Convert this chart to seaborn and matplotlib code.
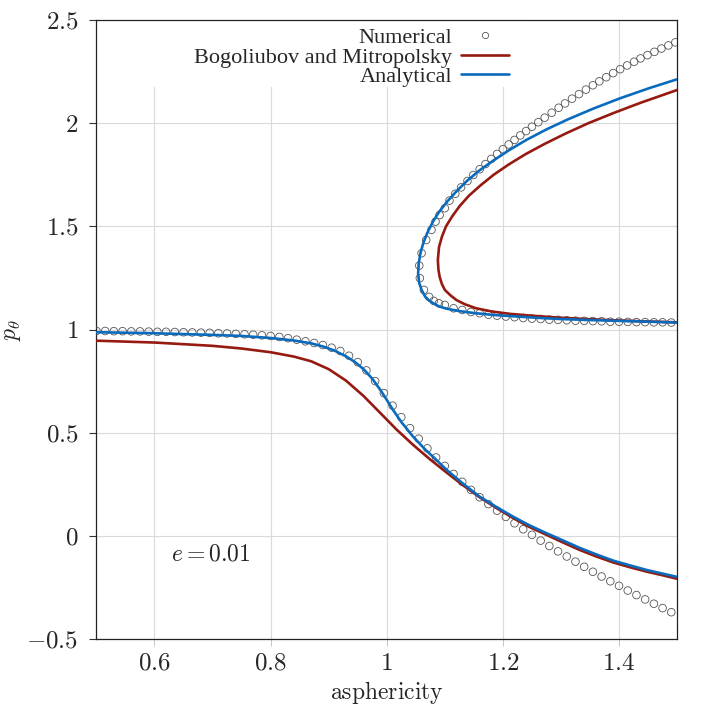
import matplotlib
matplotlib.use("Agg")
import matplotlib.pyplot as plt
import seaborn as sns
import pandas as pd
from matplotlib.lines import Line2D
from matplotlib.patches import Rectangle

# numerical solution, lower branch
num_low_x = [0.500, 0.515, 0.530, 0.545, 0.560, 0.575, 0.590, 0.605, 0.620, 0.635,
             0.650, 0.665, 0.680, 0.695, 0.710, 0.725, 0.740, 0.755, 0.770, 0.785,
             0.800, 0.815, 0.830, 0.845, 0.860, 0.875, 0.890, 0.905, 0.920, 0.935,
             0.950, 0.965, 0.980, 0.995, 1.010, 1.025, 1.040, 1.055, 1.070, 1.085,
             1.100, 1.115, 1.130, 1.145, 1.160, 1.175, 1.190, 1.205, 1.220, 1.235,
             1.250, 1.265, 1.280, 1.295, 1.310, 1.325, 1.340, 1.355, 1.370, 1.385,
             1.400, 1.415, 1.430, 1.445, 1.460, 1.475, 1.490]
num_low_y = [0.993, 0.993, 0.992, 0.992, 0.991, 0.991, 0.990, 0.989, 0.989, 0.988,
             0.987, 0.986, 0.985, 0.984, 0.982, 0.981, 0.979, 0.977, 0.975, 0.972,
             0.969, 0.964, 0.958, 0.951, 0.943, 0.935, 0.925, 0.912, 0.896, 0.873,
             0.842, 0.802, 0.750, 0.692, 0.631, 0.575, 0.522, 0.471, 0.424, 0.380,
             0.339, 0.300, 0.262, 0.223, 0.187, 0.154, 0.122, 0.092, 0.061, 0.032,
             0.005, -0.023, -0.049, -0.075, -0.100, -0.125, -0.150, -0.174, -0.197, -0.220,
             -0.242, -0.265, -0.287, -0.308, -0.329, -0.350, -0.370]

# numerical solution, upper branch (lower arm then upper arm)
num_up_x = [1.064, 1.073, 1.081, 1.090, 1.100, 1.115, 1.130, 1.145, 1.160, 1.175,
            1.190, 1.205, 1.220, 1.235, 1.250, 1.265, 1.280, 1.295, 1.310, 1.325,
            1.340, 1.355, 1.370, 1.385, 1.400, 1.415, 1.430, 1.445, 1.460, 1.475, 1.490,
            1.057, 1.056, 1.060, 1.068, 1.077, 1.084, 1.091, 1.100, 1.108, 1.118,
            1.128, 1.139, 1.149, 1.160, 1.170, 1.180, 1.190, 1.200, 1.210, 1.220,
            1.230, 1.240, 1.250, 1.261, 1.272, 1.284, 1.296, 1.307, 1.319, 1.331,
            1.343, 1.355, 1.366, 1.378, 1.390, 1.402, 1.414, 1.426, 1.437, 1.449,
            1.461, 1.473, 1.485, 1.497]
num_up_y = [1.192, 1.158, 1.139, 1.127, 1.119, 1.103, 1.095, 1.085, 1.079, 1.072,
            1.067, 1.063, 1.060, 1.056, 1.053, 1.051, 1.048, 1.047, 1.045, 1.043,
            1.042, 1.041, 1.040, 1.038, 1.038, 1.037, 1.036, 1.036, 1.035, 1.035, 1.034,
            1.249, 1.310, 1.370, 1.434, 1.483, 1.523, 1.555, 1.588, 1.625, 1.658,
            1.689, 1.720, 1.749, 1.777, 1.802, 1.827, 1.851, 1.874, 1.897, 1.919,
            1.941, 1.962, 1.983, 2.005, 2.027, 2.051, 2.075, 2.096, 2.119, 2.141,
            2.163, 2.184, 2.203, 2.223, 2.243, 2.262, 2.280, 2.298, 2.314, 2.330,
            2.346, 2.362, 2.377, 2.392]

# analytical, lower branch
ana_low_x = [0.500, 0.600, 0.700, 0.750, 0.800, 0.840, 0.870, 0.890, 0.910, 0.930,
             0.945, 0.960, 0.975, 0.990, 1.000, 1.010, 1.025, 1.045, 1.065, 1.085,
             1.103, 1.130, 1.160, 1.190, 1.217, 1.245, 1.275, 1.305, 1.332, 1.360,
             1.390, 1.420, 1.447, 1.475, 1.500]
ana_low_y = [0.987, 0.982, 0.974, 0.969, 0.959, 0.947, 0.933, 0.918, 0.898, 0.870,
             0.843, 0.808, 0.762, 0.703, 0.659, 0.614, 0.552, 0.482, 0.422, 0.369,
             0.320, 0.256, 0.190, 0.138, 0.094, 0.052, 0.013, -0.024, -0.058, -0.089,
             -0.120, -0.144, -0.165, -0.183, -0.199]

# analytical, upper branch (from bottom right round the nose to top right)
ana_up_x = [1.500, 1.450, 1.400, 1.350, 1.300, 1.270, 1.230, 1.183, 1.150, 1.126,
            1.105, 1.091, 1.082, 1.073, 1.066, 1.060, 1.056, 1.054, 1.055, 1.058,
            1.063, 1.070, 1.079, 1.090, 1.104, 1.120, 1.138, 1.159, 1.184, 1.211,
            1.241, 1.275, 1.313, 1.355, 1.401, 1.452, 1.500]
ana_up_y = [1.034, 1.038, 1.042, 1.046, 1.051, 1.055, 1.062, 1.071, 1.080, 1.089,
            1.100, 1.111, 1.124, 1.140, 1.160, 1.192, 1.225, 1.270, 1.320, 1.370,
            1.420, 1.470, 1.520, 1.570, 1.620, 1.670, 1.720, 1.770, 1.820, 1.870,
            1.920, 1.970, 2.020, 2.070, 2.120, 2.170, 2.213]

# Bogoliubov and Mitropolsky, lower branch
bm_low_x = [0.500, 0.600, 0.700, 0.750, 0.800, 0.840, 0.870, 0.900, 0.930, 0.960,
            0.988, 1.017, 1.045, 1.074, 1.103, 1.130, 1.160, 1.190, 1.217, 1.245,
            1.275, 1.305, 1.332, 1.360, 1.390, 1.420, 1.447, 1.475, 1.500]
bm_low_y = [0.946, 0.937, 0.921, 0.908, 0.890, 0.869, 0.846, 0.808, 0.752, 0.678,
            0.598, 0.515, 0.442, 0.372, 0.307, 0.248, 0.187, 0.133, 0.087, 0.044,
            0.005, -0.034, -0.068, -0.099, -0.129, -0.153, -0.173, -0.191, -0.208]

# Bogoliubov and Mitropolsky, upper branch
bm_up_x = [1.500, 1.450, 1.400, 1.350, 1.300, 1.275, 1.250, 1.212, 1.180, 1.154,
           1.135, 1.120, 1.110, 1.100, 1.095, 1.091, 1.089, 1.088, 1.090, 1.095,
           1.102, 1.113, 1.126, 1.142, 1.162, 1.184, 1.210, 1.239, 1.272, 1.308,
           1.347, 1.391, 1.438, 1.500]
bm_up_y = [1.035, 1.039, 1.044, 1.050, 1.057, 1.062, 1.067, 1.076, 1.088, 1.103,
           1.122, 1.143, 1.165, 1.192, 1.220, 1.256, 1.290, 1.337, 1.400, 1.450,
           1.500, 1.550, 1.600, 1.650, 1.700, 1.750, 1.800, 1.850, 1.900, 1.950,
           2.000, 2.050, 2.100, 2.161]

x_ticks = [0.6, 0.8, 1.0, 1.2, 1.4]
x_tick_labels = [r'$0.6$', r'$0.8$', r'$1$', r'$1.2$', r'$1.4$']
y_ticks = [-0.5, 0.0, 0.5, 1.0, 1.5, 2.0, 2.5]
y_tick_labels = [r'$-0.5$', r'$0$', r'$0.5$', r'$1$', r'$1.5$', r'$2$', r'$2.5$']

BLUE = '#0a6bbd'
RED = '#961a0f'

sns.set_style("whitegrid")
plt.rcParams['mathtext.fontset'] = 'cm'
plt.rcParams['font.family'] = ['Liberation Serif', 'DejaVu Serif']

fig = plt.figure(figsize=(7.09, 7.09), dpi=100)
ax = fig.add_axes([0.136, 0.0987, 0.819, 0.873])

num_df = pd.DataFrame({'x': num_low_x + num_up_x, 'y': num_low_y + num_up_y})
sns.scatterplot(data=num_df, x='x', y='y', ax=ax, marker='o', s=30,
                facecolor='none', edgecolor='#555555', linewidth=0.6, zorder=3)

for xs, ys in [(bm_low_x, bm_low_y), (bm_up_x, bm_up_y)]:
    sns.lineplot(x=xs, y=ys, ax=ax, sort=False, estimator=None,
                 color=RED, linewidth=1.9, zorder=4)
for xs, ys in [(ana_low_x, ana_low_y), (ana_up_x, ana_up_y)]:
    sns.lineplot(x=xs, y=ys, ax=ax, sort=False, estimator=None,
                 color=BLUE, linewidth=1.9, zorder=5)

ax.set_xlim(0.5, 1.5)
ax.set_ylim(-0.5, 2.5)
ax.set_xticks(x_ticks)
ax.set_xticklabels(x_tick_labels, fontsize=18)
ax.set_yticks(y_ticks)
ax.set_yticklabels(y_tick_labels, fontsize=18)
ax.tick_params(axis='x', direction='out', length=5, width=0.6,
               color='#bbbbbb', pad=5, bottom=True)
ax.tick_params(axis='y', direction='out', length=5, width=0.8,
               color='#333333', pad=8, left=True)
ax.grid(True, color='#dadada', linewidth=0.8)
for sp in ax.spines.values():
    sp.set_color('#222222')
    sp.set_linewidth(0.9)

# opaque background behind the legend block
ax.add_patch(Rectangle((0.0, 0.892), 0.745, 0.108, transform=ax.transAxes,
                       facecolor='white', edgecolor='none', zorder=1))

ax.set_xlabel(r'$\mathrm{asphericity}$', fontsize=17, labelpad=3)
ax.set_ylabel(r'$p_\theta$', fontsize=17, labelpad=2)

ax.text(0.697, -0.092, r'$e = 0.01$', fontsize=17, ha='center', va='center',
        bbox=dict(facecolor='white', edgecolor='none', pad=3), zorder=6)

handles = [
    Line2D([], [], linestyle='none', marker='o', markersize=4.5,
           markerfacecolor='none', markeredgecolor='#555555', markeredgewidth=0.6),
    Line2D([], [], color=RED, linewidth=1.9),
    Line2D([], [], color=BLUE, linewidth=1.9),
]
labels = ['Numerical', 'Bogoliubov and Mitropolsky', 'Analytical']
leg = ax.legend(handles, labels, loc='upper right', bbox_to_anchor=(0.737, 1.013),
                markerfirst=False, fontsize=16, frameon=False,
                handlelength=2.15, handletextpad=0.4,
                labelspacing=-0.05, borderpad=0.2)
leg.set_zorder(7)

fig.savefig('out.png', dpi=100)
